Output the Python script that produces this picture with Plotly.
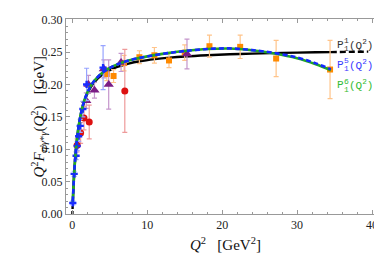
import plotly.graph_objects as go

# ---------------- data ----------------
# L3-like (blue crosses)
blue_q2 = [0.06, 0.24, 0.5, 0.64, 0.84, 1.05, 1.4, 1.9, 4.1]
blue_f = [0.017, 0.062, 0.090, 0.105, 0.120, 0.136, 0.162, 0.200, 0.226]
blue_err = [0.003, 0.004, 0.006, 0.007, 0.008, 0.010, 0.012, 0.025, 0.034]

# CELLO-like (red circles)
red_q2 = [0.64, 1.1, 1.55, 2.25, 7.0]
red_f = [0.106, 0.125, 0.148, 0.142, 0.190]
red_err = [0.010, 0.016, 0.018, 0.026, 0.064]

# CLEO-like (purple triangles)
purple_q2 = [1.85, 2.15, 2.95, 4.2, 4.85, 6.5, 15.3]
purple_f = [0.175, 0.200, 0.191, 0.224, 0.200, 0.234, 0.247]
purple_err = [0.012, 0.014, 0.012, 0.014, 0.038, 0.014, 0.023]

# BaBar-like (orange squares)
orange_q2 = [4.6, 5.5, 6.9, 8.95, 10.95, 12.9, 15.0, 18.3, 22.4, 27.2, 34.4]
orange_f = [0.216, 0.213, 0.233, 0.242, 0.245, 0.237, 0.249, 0.259, 0.258, 0.240, 0.223]
orange_err = [0.010, 0.010, 0.012, 0.010, 0.012, 0.011, 0.012, 0.017, 0.018, 0.028, 0.045]

# Pade curves
curve_q2 = [0.06, 0.1, 0.2, 0.3, 0.45, 0.6, 0.8, 1.0, 1.3, 1.6, 2.0, 2.5, 3.0, 4.0,
            5.0, 6.0, 7.5, 9.0, 11, 13, 15, 18, 21, 24, 27, 30, 32.5, 34.5]
p11_f = [0.0190, 0.0301, 0.0539, 0.0731, 0.0959, 0.1136, 0.1319, 0.1461, 0.1621,
         0.1740, 0.1858, 0.1965, 0.2043, 0.2151, 0.2221, 0.2270, 0.2321, 0.2357,
         0.2390, 0.2414, 0.2432, 0.2451, 0.2465, 0.2476, 0.2484, 0.2491, 0.2496, 0.2499]
p15_f = [0.0190, 0.0301, 0.0540, 0.0733, 0.0962, 0.1140, 0.1325, 0.1468, 0.1632,
         0.1753, 0.1874, 0.1985, 0.2066, 0.2180, 0.2256, 0.2310, 0.2368, 0.2410,
         0.2452, 0.2487, 0.2515, 0.2547, 0.2556, 0.2530, 0.2485, 0.2415, 0.2325, 0.2234]
p16_f = [0.0190, 0.0301, 0.0540, 0.0733, 0.0962, 0.1140, 0.1325, 0.1468, 0.1632,
         0.1753, 0.1874, 0.1985, 0.2066, 0.2180, 0.2256, 0.2310, 0.2368, 0.2410,
         0.2452, 0.2487, 0.2515, 0.2546, 0.2555, 0.2527, 0.2478, 0.2405, 0.2312, 0.2220]
# extrapolated (dashed) parts of P11
p11_low_q2 = [0.0, 0.06]
p11_low_f = [0.0, 0.0190]
p11_high_q2 = [34.5, 37.0, 39.5]
p11_high_f = [0.2499, 0.2502, 0.2506]

x_ticks = [0, 10, 20, 30, 40]
y_ticks = [0.00, 0.05, 0.10, 0.15, 0.20, 0.25, 0.30]

legend_sups = ["1", "5", "6"]
legend_colors = ["#333333", "#3a3aff", "#33bb33"]

SERIF = "Liberation Serif, Times New Roman, serif"
MONO = "Liberation Mono, Courier New, monospace"

# ---------------- figure ----------------
fig = go.Figure()

def err_trace(x, y, e, sym, size, mcol, ecol):
    fig.add_trace(go.Scatter(
        x=x, y=y, mode="markers",
        marker=dict(symbol=sym, size=size, color=mcol, line=dict(width=0)),
        error_y=dict(type="data", array=e, visible=True, color=ecol,
                     thickness=1.2, width=2.5),
        showlegend=False))

# curves
fig.add_trace(go.Scatter(x=p11_low_q2, y=p11_low_f, mode="lines",
                         line=dict(color="black", width=2.4, dash="3px,2px"), showlegend=False))
fig.add_trace(go.Scatter(x=curve_q2, y=p11_f, mode="lines", line_shape="spline",
                         line=dict(color="black", width=2.4), showlegend=False))
fig.add_trace(go.Scatter(x=p11_high_q2, y=p11_high_f, mode="lines",
                         line=dict(color="black", width=2.4, dash="6px,3px"), showlegend=False))

err_trace(orange_q2, orange_f, orange_err, "square", 6, "#ff8a00", "#ffc48a")
err_trace(purple_q2, purple_f, purple_err, "triangle-up", 9, "#7b1c85", "#c596cc")
err_trace(red_q2, red_f, red_err, "circle", 7, "#dd1010", "#ee9a9a")
err_trace(blue_q2, blue_f, blue_err, "cross", 6, "#1a2cff", "#98a4ff")

fig.add_trace(go.Scatter(x=curve_q2, y=p16_f, mode="lines", line_shape="spline",
                         line=dict(color="#22aa22", width=2.6), showlegend=False))
fig.add_trace(go.Scatter(x=curve_q2, y=p15_f, mode="lines", line_shape="spline",
                         line=dict(color="#1428ff", width=2.6, dash="5px,3px"), showlegend=False))

axis_common = dict(
    showline=True, linecolor="#999999", linewidth=1, mirror="allticks",
    ticks="inside", ticklen=4, tickcolor="#999999", tickwidth=1,
    showgrid=False, zeroline=False,
    tickfont=dict(family=SERIF, size=12, color="#222222"),
)

fig.update_xaxes(range=[-0.85, 41.6], tickvals=x_ticks,
                 minor=dict(dtick=2, ticks="inside", ticklen=2, tickcolor="#999999", showgrid=False),
                 **axis_common)
fig.update_yaxes(range=[0, 0.301], tickvals=y_ticks, tickformat=".2f",
                 minor=dict(dtick=0.01, ticks="inside", ticklen=2, tickcolor="#999999", showgrid=False),
                 **axis_common)

annotations = [
    dict(text="<i>Q</i><sup>2</sup>   [GeV<sup>2</sup>]", xref="paper", yref="paper",
         x=0.5, y=-0.155, xanchor="center", yanchor="middle", showarrow=False,
         font=dict(family=SERIF, size=15, color="#111111")),
    dict(text="<i>Q</i><sup>2</sup><i>F</i><sub><i>η</i>'<i>γ</i>*<i>γ</i></sub>(<i>Q</i><sup>2</sup>)   [GeV]",
         xref="paper", yref="paper", x=-0.088, y=0.5, xanchor="center", yanchor="middle",
         textangle=-90, showarrow=False,
         font=dict(family=SERIF, size=15, color="#111111")),
]
# legend labels: P with stacked super/subscript, built from pieces
for sup, col, ypix in zip(legend_sups, legend_colors, [35, 55, 76]):
    yy = 1 - (ypix - 9) / 197
    annotations.append(dict(text="P", xref="paper", yref="paper", x=(328 - 58) / 319, y=yy,
                            xanchor="left", yanchor="middle", showarrow=False,
                            font=dict(family=MONO, size=11, color=col)))
    annotations.append(dict(text=sup, xref="paper", yref="paper", x=(335 - 58) / 319, y=yy,
                            xanchor="left", yanchor="middle", yshift=4, showarrow=False,
                            font=dict(family=MONO, size=8, color=col)))
    annotations.append(dict(text="1", xref="paper", yref="paper", x=(335 - 58) / 319, y=yy,
                            xanchor="left", yanchor="middle", yshift=-4, showarrow=False,
                            font=dict(family=MONO, size=8, color=col)))
    annotations.append(dict(text="(Q<sup>2</sup>)", xref="paper", yref="paper", x=(340 - 58) / 319, y=yy,
                            xanchor="left", yanchor="middle", showarrow=False,
                            font=dict(family=MONO, size=11, color=col)))

fig.update_layout(width=382, height=254, margin=dict(l=58, r=5, t=9, b=48),
                  paper_bgcolor="white", plot_bgcolor="white",
                  annotations=annotations)

fig.write_html("out.html")
